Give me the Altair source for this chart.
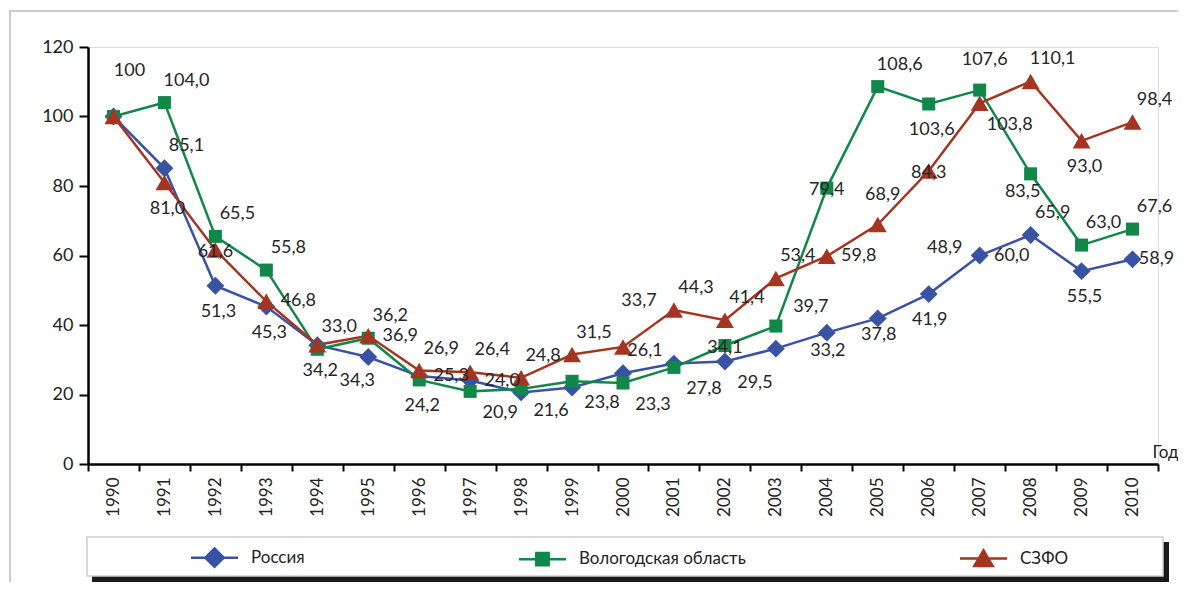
import altair as alt
import pandas as pd

years = [str(y) for y in range(1990, 2011)]
russia = [100, 85.1, 51.3, 45.3, 34.2, 30.8, 25.3, 24.0, 20.6, 22.0, 26.1,
          28.9, 29.5, 33.2, 37.8, 41.9, 48.9, 60.0, 65.9, 55.5, 58.9]
vologda = [100, 104.0, 65.5, 55.8, 33.0, 36.2, 24.2, 20.9, 21.6, 23.8, 23.3,
           27.8, 34.1, 39.7, 79.4, 108.6, 103.6, 107.6, 83.5, 63.0, 67.6]
szfo = [100, 81.0, 61.6, 46.8, 34.3, 36.9, 26.9, 26.4, 24.8, 31.5, 33.7,
        44.3, 41.4, 53.4, 59.8, 68.9, 84.3, 103.8, 110.1, 93.0, 98.4]
series_names = ["Россия", "Вологодская область", "СЗФО"]
colors = ["#3A52A3", "#11874A", "#A33522"]

# where each value label sits relative to its marker ("-" = no label shown)
place_russia = ["-", "NE", "S", "S", "S", "-", "E", "E", "-", "-", "NE",
                "-", "SE", "EE", "EE", "EE", "NN", "E", "NE", "S", "e"]
place_vologda = ["NN", "NE", "NE", "NE", "NE", "NE", "S", "SE", "SE", "SE", "SE",
                 "SE", "C", "ENE", "C", "NE", "S", "N", "SW", "NE", "NE"]
place_szfo = ["-", "S", "C", "E", "SSE", "E", "NE", "NE", "NE", "NE", "NN",
              "NE", "NE", "NE", "E", "N", "C", "SE", "NE", "S", "NE"]
offset_of = {"C": (0, 2), "N": (5, -30), "NN": (16, -46), "NE": (22, -22),
             "ENE": (35, -19), "E": (32, 0), "e": (24, 0), "EE": (52, 2),
             "SE": (30, 22), "SSE": (40, 36), "S": (3, 26), "SW": (-8, 18)}

rows = []
for name, vals, places in zip(series_names, [russia, vologda, szfo],
                              [place_russia, place_vologda, place_szfo]):
    for yr, v, p in zip(years, vals, places):
        lbl = ("%.1f" % v).replace(".", ",") if v != 100 else "100"
        rows.append({"year": yr, "series": name, "value": v, "label": lbl, "place": p})
df = pd.DataFrame(rows)

FONT = "Lato"
W, H = 1070, 417

x_enc = alt.X("year:N", sort=years,
              scale=alt.Scale(paddingInner=0, paddingOuter=0),
              axis=alt.Axis(title="Год", titleX=1064, titleY=-12, titleAlign="left",
                            titleBaseline="middle", titleFont=FONT, titleFontSize=17,
                            titleFontWeight="normal", titleColor="#222",
                            labelAngle=270, labelFont=FONT, labelFontSize=17,
                            labelColor="#222", labelPadding=6, tickBand="extent",
                            tickSize=7, tickWidth=2, tickColor="black",
                            domainColor="black", domainWidth=2.5))
y_enc = alt.Y("value:Q", scale=alt.Scale(domain=[0, 120], nice=False),
              axis=alt.Axis(title=None, values=[0, 20, 40, 60, 80, 100, 120],
                            labelFont=FONT, labelFontSize=18, labelColor="#222",
                            labelPadding=6, tickSize=9, tickWidth=2, tickColor="black",
                            domainColor="black", domainWidth=2.5, grid=False))

base = alt.Chart(df)
color_scale = alt.Scale(domain=series_names, range=colors)

lines = base.mark_line(strokeWidth=2.5).encode(
    x=x_enc, y=y_enc,
    color=alt.Color("series:N", scale=color_scale, legend=None),
    order=alt.Order("year:N"))

shapes = ["diamond", "square", "triangle-up"]
sizes = [320, 170, 320]
point_layers = []
for name, col, shp, sz in zip(series_names, colors, shapes, sizes):
    sub = base.transform_filter(alt.datum.series == name)
    point_layers.append(sub.mark_point(shape=shp, size=sz, filled=True, opacity=1,
                                       color=col).encode(x=x_enc, y=y_enc))

text_layers = []
for code, (dx, dy) in offset_of.items():
    text_layers.append(base.transform_filter(alt.datum.place == code).mark_text(
        font=FONT, fontSize=18, color="#262626", dx=dx, dy=dy,
        align="center", baseline="middle").encode(x=x_enc, y=y_enc, text="label:N"))

legend_paths = ["M-2.35,0H2.35M0,-0.92L0.92,0L0,0.92L-0.92,0Z",
                "M-2.35,0H2.35M-0.62,-0.62H0.62V0.62H-0.62Z",
                "M-2.35,0H2.35M0,-0.8L0.92,0.75H-0.92Z"]
leg = dict(title=None, orient="none", legendX=115, legendY=499, direction="horizontal",
           symbolSize=400, symbolStrokeWidth=2.5, symbolOpacity=1,
           labelFont=FONT, labelFontSize=17, labelColor="#222", labelLimit=400,
           labelOffset=25, columnPadding=209)
legend_layer = base.transform_filter("false").mark_point(filled=True, opacity=1).encode(
    fill=alt.Fill("series:N", scale=alt.Scale(domain=series_names, range=colors),
                  legend=alt.Legend(**leg)),
    stroke=alt.Stroke("series:N", scale=alt.Scale(domain=series_names, range=colors),
                      legend=alt.Legend(**leg)),
    shape=alt.Shape("series:N", scale=alt.Scale(domain=series_names, range=legend_paths),
                    legend=alt.Legend(**leg)))

dec = alt.Chart(pd.DataFrame({"k": [0]}))
frame_top = dec.mark_rule(color="#cccccc", strokeWidth=2).encode(
    x=alt.value(-79), x2=alt.value(1100), y=alt.value(-36))
frame_left = dec.mark_rule(color="#cccccc", strokeWidth=2).encode(
    x=alt.value(-78), y=alt.value(-36), y2=alt.value(560))
shadow = dec.mark_rect(color="#1a1a1a").encode(
    x=alt.value(4), x2=alt.value(1081), y=alt.value(495), y2=alt.value(535))
box = dec.mark_rect(fill="white", stroke="#d0d0d0", strokeWidth=1.5).encode(
    x=alt.value(-1), x2=alt.value(1075), y=alt.value(490), y2=alt.value(529))

chart = alt.layer(frame_top, frame_left, shadow, box, lines, *point_layers,
                  *text_layers, legend_layer).resolve_scale(
    color="independent", fill="independent", stroke="independent", shape="independent"
).properties(
    width=W, height=H,
    autosize=alt.AutoSizeParams(type="none"),
    padding={"left": 80, "top": 39, "right": 20, "bottom": 118},
).configure_view(stroke=None).configure(background="white")

chart.save("out.html", embed_options={"renderer": "svg", "actions": False})
